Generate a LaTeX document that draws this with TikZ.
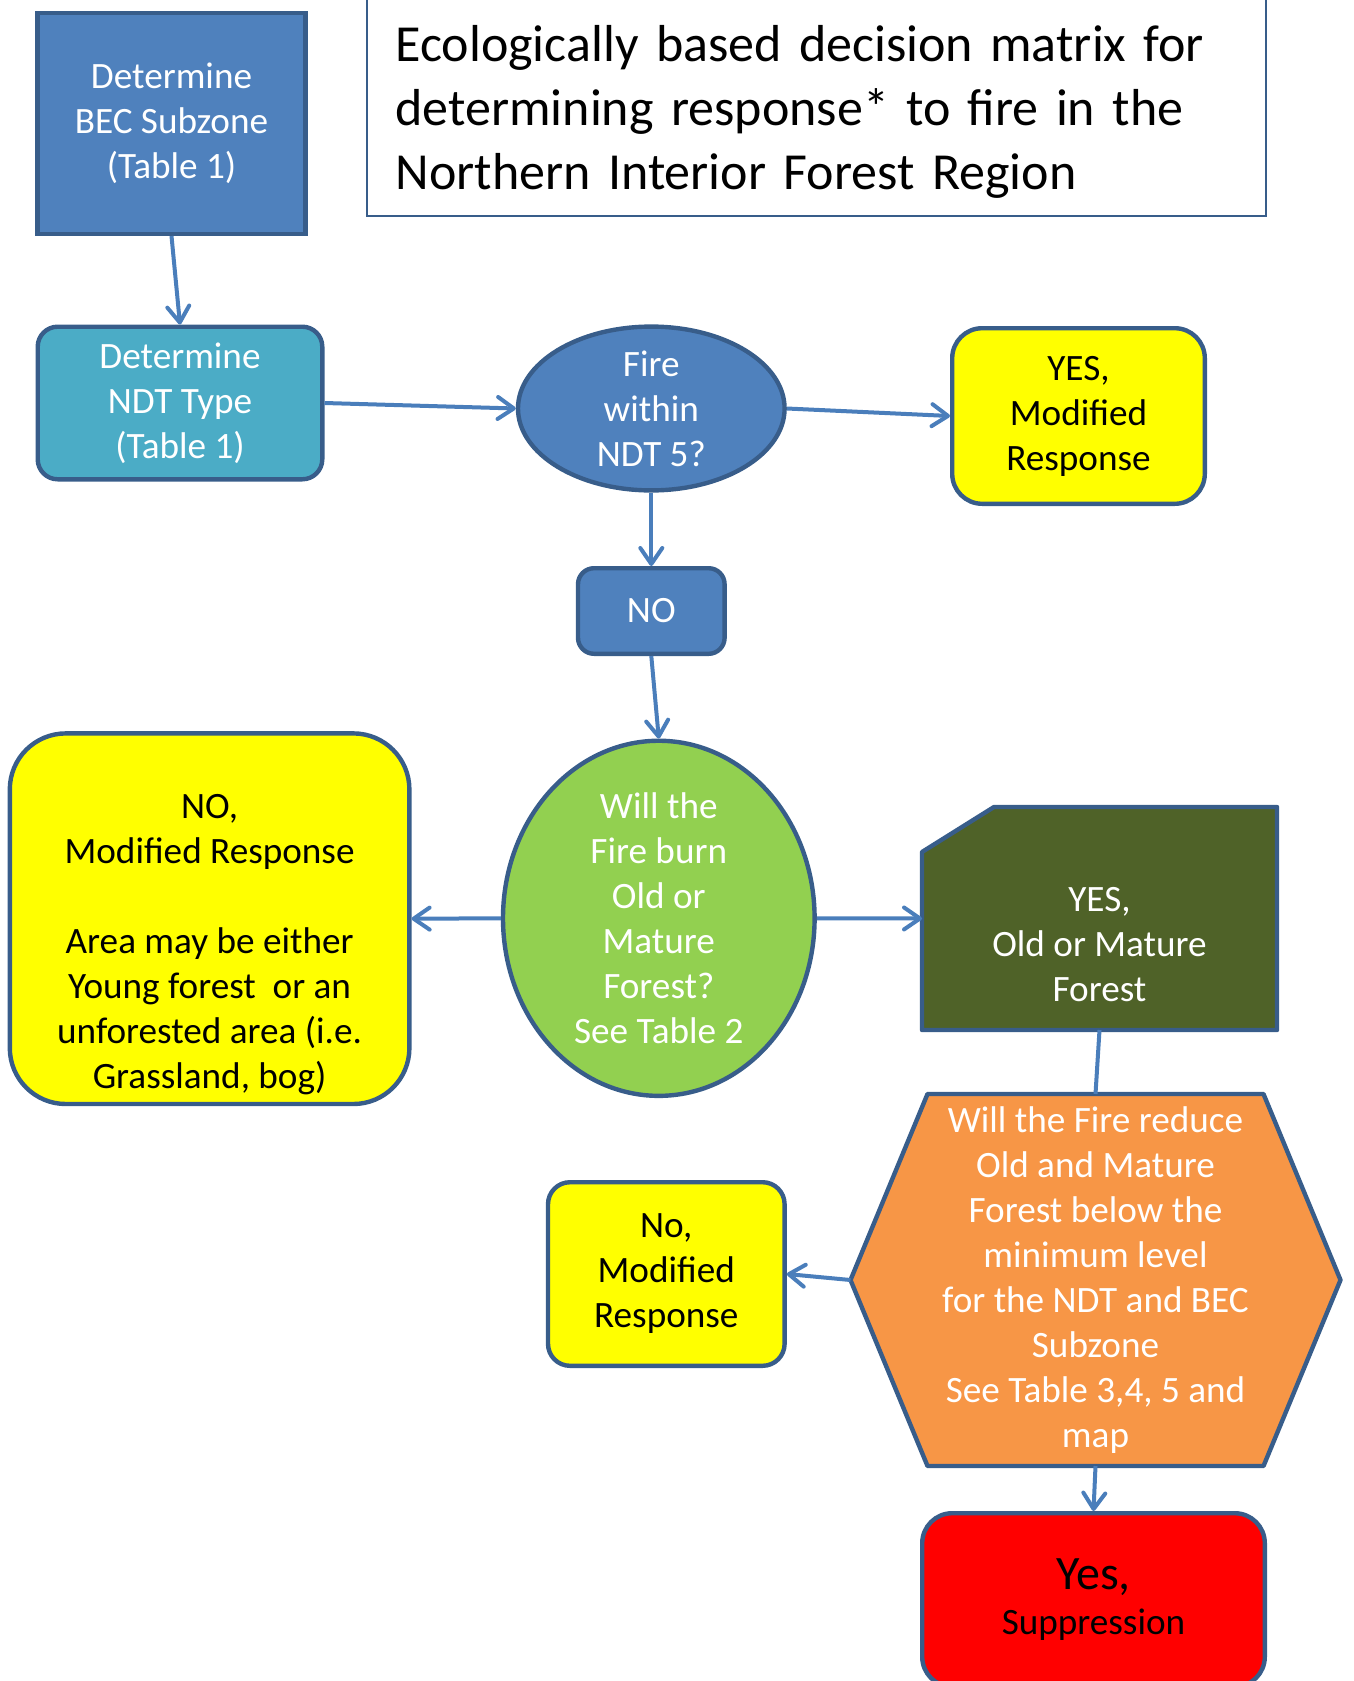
\documentclass[tikz,border=0pt]{standalone}
\usepackage{fontspec}
\setmainfont{Carlito}
\usepackage{tikz}
\usetikzlibrary{shapes.geometric, shapes.misc, arrows.meta, backgrounds}
\usetikzlibrary{positioning}

\definecolor{boxblue}{HTML}{4F81BD}
\definecolor{edgeblue}{HTML}{385D8A}
\definecolor{arrowblue}{HTML}{4A7EBB}
\definecolor{ndtcyan}{HTML}{4BACC6}
\definecolor{answeryellow}{HTML}{FFFF00}
\definecolor{burngreen}{HTML}{92D050}
\definecolor{oldgreen}{HTML}{4F6228}
\definecolor{reduceorange}{HTML}{F79646}
\definecolor{suppred}{HTML}{FF0000}

\tikzset{font={\fontsize{18.6}{22.5}\selectfont}}
\tikzset{
	shape_box/.style={draw=edgeblue, line width=2.2pt, align=center, inner sep=0pt},
	text_box/.style={rectangle, align=center, inner sep=0pt, outer sep=0pt},
	shape_line/.style={draw=edgeblue, line width=2.2pt, line join=round},
	flow/.style={draw=arrowblue, line width=2pt, -{Straight Barb[length=8pt, width=11pt, round]}},
	link/.style={draw=arrowblue, line width=2pt}
}

\begin{document}
\begin{tikzpicture}[x=0.5pt, y=-0.5pt]

	\useasboundingbox (0,0) rectangle (1354,1681);

	% title
	\node (title) [rectangle, draw=edgeblue, line width=0.9pt, minimum width=449.5pt, minimum height=110pt, text width=421pt, align=left, font={\fontsize{26}{32}\selectfont}] at (816.5,106) {\rule{0pt}{24pt}Ecologically based decision matrix for\\determining response* to fire in the\\Northern Interior Forest Region};

	% first steps
	\node (bec_zone) [shape_box, rectangle, fill=boxblue, text=white, minimum width=134pt, minimum height=110.5pt] at (171.5,123.3) {Determine\\BEC Subzone\\(Table 1)};

	\node (ndt_type) [shape_box, rectangle, rounded corners=10pt, fill=ndtcyan, text=white, minimum width=142.3pt, minimum height=76.3pt] at (180,403) {Determine\\NDT Type\\(Table 1)};

	\node (fire_ndt) [shape_box, ellipse, fill=boxblue, text=white, minimum width=133.3pt, minimum height=81.3pt] at (651.3,408.5) {Fire\\within\\NDT 5?};

	\node (yes_ndt) [shape_box, rectangle, rounded corners=15pt, fill=answeryellow, minimum width=126.3pt, minimum height=87.8pt] at (1078.5,416) {YES,\\Modified\\Response};

	\node (no_ndt) [shape_box, rectangle, rounded corners=8pt, fill=boxblue, text=white, minimum width=73.3pt, minimum height=42.8pt] at (651.3,611) {NO};

	% old or mature forest
	\node (old_forest) [shape_box, ellipse, fill=burngreen, text=white, minimum width=155.8pt, minimum height=170.8pt] at (658.8,918.3) {Will the\\Fire burn\\Old or\\Mature\\Forest?\\See Table 2};

	\node (no_young) [shape_box, rectangle, rounded corners=28pt, fill=answeryellow, minimum width=199.8pt, minimum height=185.3pt] at (209.6,918.7) {\strut\\NO,\\Modified Response\\ \\Area may be either\\Young forest\ \ or an\\unforested area (i.e.\\Grassland, bog)};

	\node (yes_old) [text_box, text=white, minimum width=177.5pt, minimum height=111.5pt] at (1099.5,918.5) {\strut\\YES,\\Old or Mature\\Forest};

	% minimum level
	\node (reduce_old) [text_box, text=white, minimum width=245pt, minimum height=186pt] at (1095.5,1280) {Will the Fire reduce\\Old and Mature\\Forest below the\\minimum level\\for the NDT and BEC\\Subzone\\See Table 3,4, 5 and\\map};

	\node (no_reduce) [shape_box, rectangle, rounded corners=11pt, fill=answeryellow, minimum width=118.3pt, minimum height=91.8pt] at (666.3,1274) {No,\\Modified\\Response};

	\node (yes_supp) [shape_box, rectangle, rounded corners=15pt, fill=suppred, minimum width=171.3pt, minimum height=86.8pt] at (1093.5,1600) {{\fontsize{24}{22.5}\selectfont Yes,}\\Suppression};

	% outlines behind the texts
	\begin{scope}[on background layer]
		\draw [shape_line, fill=oldgreen] ([yshift=-22.5pt]yes_old.north west) -- ([xshift=36pt]yes_old.north west) -- (yes_old.north east) -- (yes_old.south east) -- (yes_old.south west) -- cycle;

		\draw [shape_line, fill=reduceorange] (reduce_old.west) -- ([xshift=38.5pt]reduce_old.north west) -- ([xshift=-38.5pt]reduce_old.north east) -- (reduce_old.east) -- ([xshift=-38.5pt]reduce_old.south east) -- ([xshift=38.5pt]reduce_old.south west) -- cycle;
	\end{scope}

	% connectors
	\draw [flow] (bec_zone.south) -- (ndt_type.north);
	\draw [flow] (ndt_type.east) -- (fire_ndt.west);
	\draw [flow] (fire_ndt.east) -- (yes_ndt.west);
	\draw [flow] (fire_ndt.south) -- (no_ndt.north);
	\draw [flow] (no_ndt.south) -- (old_forest.north);
	\draw [flow] (old_forest.west) -- (no_young.east);
	\draw [flow] (old_forest.east) -- (yes_old.west);
	\draw [link] (yes_old.south) -- (reduce_old.north);
	\draw [flow] (reduce_old.west) -- (no_reduce.east);
	\draw [flow] (reduce_old.south) -- (yes_supp.north);

\end{tikzpicture}
\end{document}
